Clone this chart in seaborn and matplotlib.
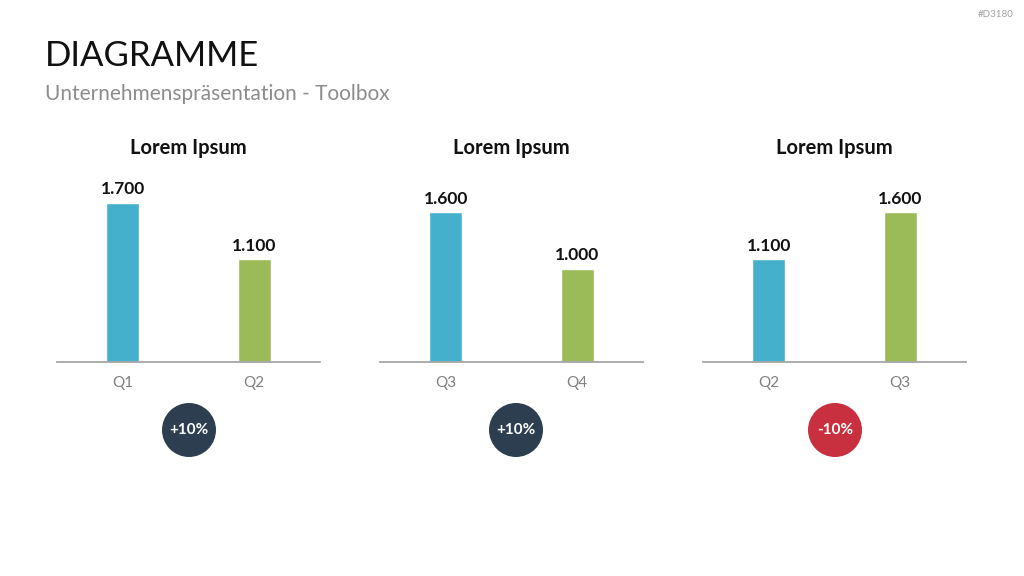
import numpy as np
import matplotlib.pyplot as plt
import seaborn as sns
import pandas as pd
from matplotlib.patches import Circle

# chart data
panel_titles = ['Lorem Ipsum', 'Lorem Ipsum', 'Lorem Ipsum']
quarters = [['Q1', 'Q2'], ['Q3', 'Q4'], ['Q2', 'Q3']]
values = [[1700, 1100], [1600, 1000], [1100, 1600]]
changes = ['+10%', '+10%', '-10%']
change_colors = ['#2C3E50', '#2C3E50', '#C8303F']
bar_colors = ['#45B0CC', '#9BBB59']

sns.set_theme(style='white')
plt.rcParams['font.family'] = ['Lato', 'DejaVu Sans']

fig = plt.figure(figsize=(10.24, 5.76), dpi=100)

fig.text(0.044, 1 - 56 / 576, 'DIAGRAMME', fontsize=25, color='#111111', va='center')
fig.text(0.044, 1 - 94 / 576, 'Unternehmenspräsentation - Toolbox', fontsize=15, color='#8C8C8C', va='center')
fig.text(0.99, 0.975, '#D3180', fontsize=7, color='#A0A0A0', ha='right', va='center')

lefts = [57, 380, 703]
circle_x = [189, 516, 835]
for i in range(3):
    ax = fig.add_axes([lefts[i] / 1024, (576 - 362) / 576, 263 / 1024, 187 / 576])
    df = pd.DataFrame({'q': quarters[i], 'v': values[i]})
    sns.barplot(data=df, x='q', y='v', hue='q', palette=bar_colors, width=0.25,
                legend=False, ax=ax, saturation=1)
    ax.set_xlim(-0.5, 1.5)
    ax.set_ylim(0, 2000)
    ax.set_xlabel('')
    ax.set_ylabel('')
    ax.set_yticks([])
    for s in ['top', 'right', 'left']:
        ax.spines[s].set_visible(False)
    ax.spines['bottom'].set_color('#A6A6A6')
    ax.spines['bottom'].set_linewidth(1.3)
    ax.tick_params(axis='x', length=0, pad=10, labelsize=11, labelcolor='#7F7F7F')
    for j, v in enumerate(values[i]):
        ax.text(j, v + 60, f'{v:,}'.replace(',', '.'), ha='center', va='bottom',
                fontsize=12.5, fontweight='bold', color='#111111')
    fig.text((lefts[i] + 131.5) / 1024, 1 - 148 / 576, panel_titles[i], ha='center', va='center',
             fontsize=14.5, fontweight='bold', color='#111111')
    cx, cy = circle_x[i] / 1024, 1 - 430 / 576
    fig.patches.append(Circle((circle_x[i], 576 - 430), 27, transform=None,
                              facecolor=change_colors[i], edgecolor='none'))
    fig.text(cx, cy, changes[i], ha='center', va='center', fontsize=11,
             fontweight='bold', color='white')

fig.savefig('out.png', dpi=100)
